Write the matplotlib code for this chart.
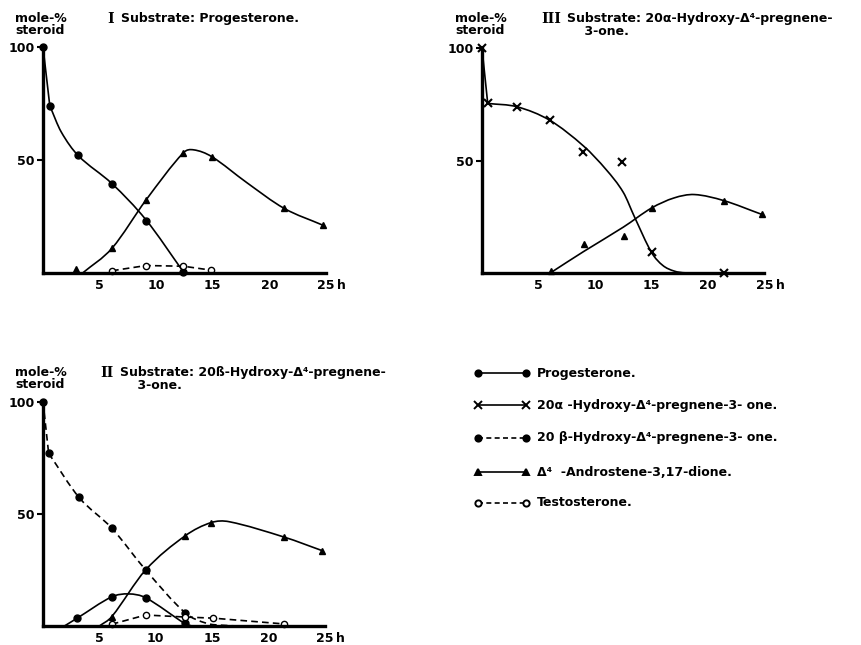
import numpy as np
import matplotlib
matplotlib.use("Agg")
import matplotlib.pyplot as plt
from matplotlib.path import Path
from matplotlib.patches import PathPatch

# ---- data (h, mole-%) ----
# panel I, substrate progesterone
I_prog_x = [0, 0.6, 3.1, 6.1, 9.1, 12.4]
I_prog_y = [100, 74, 52, 39.5, 23, 0.5]
I_prog_cx = [0.6, 1.6, 3.1, 6.1, 9.1, 12.4]
I_prog_cy = [74, 62.5, 52, 39.5, 23.5, 0.5]
I_andro_x = [2.9, 6.1, 9.1, 12.4, 14.9, 21.3, 24.7]
I_andro_y = [1.6, 11, 32.3, 53.2, 51.5, 28.6, 21.2]
I_andro_cx = [3.5, 6.1, 9.1, 12.4, 13.3, 14.9, 18, 21.3, 24.7]
I_andro_cy = [0, 11, 32.3, 53.2, 54.5, 51.5, 40, 28.6, 21.2]
I_testo_x = [6.1, 9.1, 12.4, 14.8]
I_testo_y = [1, 3.3, 3, 1.3]

# panel III, substrate 20a-hydroxy
III_alpha_x = [0, 0.5, 3.1, 6.0, 8.9, 12.4, 15.0, 21.4]
III_alpha_y = [100, 75.8, 74, 68, 54, 49.3, 9.3, 0]
III_alpha_cx = [0.5, 3.1, 6.0, 9.0, 11.0, 12.5, 13.5, 15.0, 16.0, 17.0, 18.0, 21.4, 25.0]
III_alpha_cy = [75.5, 74, 68, 56.5, 46, 36, 25, 9.3, 3.5, 1, 0.2, 0, 0]
III_andro_x = [6.1, 9.0, 12.6, 15.0, 21.4, 24.75]
III_andro_y = [1.2, 13, 16.7, 28.9, 32.3, 26.2]
III_andro_cx = [6.0, 9.0, 12.5, 15.0, 17.0, 18.8, 21.4, 24.75]
III_andro_cy = [0, 9.7, 20.5, 29, 33.5, 35, 32.3, 26.2]

# panel II, substrate 20b-hydroxy
II_beta_x = [0, 0.5, 3.2, 6.1, 9.1, 12.6]
II_beta_y = [100, 77, 57.3, 43.6, 25, 5.9]
II_beta_cx = [0.5, 3.2, 6.1, 9.1, 12.6, 14.5, 16.0, 17.5]
II_beta_cy = [77, 57.3, 43.6, 25, 5.9, 1.2, 0.3, 0]
II_prog_x = [3.0, 6.1, 9.1, 12.6]
II_prog_y = [3.4, 13, 12.6, 1.2]
II_prog_cx = [1.9, 3.0, 6.1, 7.6, 9.1, 12.6, 13.2]
II_prog_cy = [0, 3.4, 13, 14.3, 12.6, 1.0, 0]
II_andro_x = [6.1, 9.1, 12.6, 14.9, 21.4, 24.75]
II_andro_y = [4.2, 25, 40.2, 46.1, 39.6, 33.6]
II_andro_cx = [5.0, 6.1, 9.1, 12.6, 14.9, 16.5, 21.4, 24.75]
II_andro_cy = [0, 4.2, 25, 40.2, 46.1, 46.5, 39.6, 33.6]
II_testo_x = [6.1, 9.1, 12.6, 15.1, 21.4]
II_testo_y = [0.8, 4.9, 4.0, 3.5, 0.9]

xticks = [5, 10, 15, 20, 25]
yticks = [50, 100]

legend_labels = ["Progesterone.",
                 "20\u03b1 -Hydroxy-\u0394\u2074-pregnene-3- one.",
                 "20 \u03b2-Hydroxy-\u0394\u2074-pregnene-3- one.",
                 "\u0394\u2074  -Androstene-3,17-dione.",
                 "Testosterone."]

plt.rcParams['font.family'] = ['DejaVu Sans']
plt.rcParams['font.weight'] = 'bold'
FS = 9
LW = 1.2
MS = 5


def smooth(ax, xs, ys, ls='-'):
    # hermite curve through traced points, drawn as bezier path
    xs = np.asarray(xs, float)
    ys = np.asarray(ys, float)
    n = len(xs)
    m = np.zeros(n)
    for i in range(n):
        if i == 0:
            m[i] = (ys[1] - ys[0]) / (xs[1] - xs[0])
        elif i == n - 1:
            m[i] = (ys[-1] - ys[-2]) / (xs[-1] - xs[-2])
        else:
            m[i] = (ys[i + 1] - ys[i - 1]) / (xs[i + 1] - xs[i - 1])
    verts = [(xs[0], ys[0])]
    codes = [Path.MOVETO]
    for i in range(n - 1):
        dx = xs[i + 1] - xs[i]
        verts += [(xs[i] + dx / 3, ys[i] + m[i] * dx / 3),
                  (xs[i + 1] - dx / 3, ys[i + 1] - m[i + 1] * dx / 3),
                  (xs[i + 1], ys[i + 1])]
        codes += [Path.CURVE4] * 3
    ax.add_patch(PathPatch(Path(verts, codes), fill=False, lw=LW,
                           ls=ls, color='black', clip_on=False))


def setup(ax):
    ax.set_xlim(0, 25)
    ax.set_ylim(0, 100)
    for s in ['top', 'right']:
        ax.spines[s].set_visible(False)
    ax.spines['left'].set_linewidth(2.4)
    ax.spines['bottom'].set_linewidth(2.4)
    ax.set_xticks(xticks)
    ax.set_xticklabels([str(t) for t in xticks], fontsize=FS, fontweight='bold')
    ax.set_yticks(yticks)
    ax.set_yticklabels([str(t) for t in yticks], fontsize=FS, fontweight='bold')
    ax.tick_params(axis='x', length=0, pad=4)
    ax.tick_params(axis='y', length=4, width=1.5, pad=2)
    ax.annotate('h', xy=(25, 0), xycoords='data', xytext=(8, -4),
                textcoords='offset points', ha='left', va='top',
                fontsize=FS, fontweight='bold', annotation_clip=False)
    ax.patch.set_visible(False)


fig = plt.figure(figsize=(8.62, 6.45), dpi=100)
W, H = 862.0, 645.0
axI = fig.add_axes([43 / W, 1 - 273 / H, 283 / W, 226 / H])
axIII = fig.add_axes([482 / W, 1 - 273.3 / H, 282.5 / W, 225 / H])
axII = fig.add_axes([43 / W, 1 - 626 / H, 282 / W, 224.3 / H])
for a in (axI, axIII, axII):
    setup(a)

# panel I
a = axI
a.plot(I_prog_x[:2], I_prog_y[:2], color='k', lw=LW, clip_on=False)
smooth(a, I_prog_cx, I_prog_cy)
a.plot(I_prog_x, I_prog_y, 'o', color='k', ms=MS, clip_on=False)
smooth(a, I_andro_cx, I_andro_cy)
a.plot(I_andro_x, I_andro_y, '^', color='k', ms=MS, clip_on=False)
a.plot(I_testo_x, I_testo_y, 'o', ls=(0, (4, 2.5)), color='k', lw=LW,
       ms=MS - 0.5, mfc='white', clip_on=False)

# panel III
a = axIII
a.plot(III_alpha_x[:2], III_alpha_y[:2], color='k', lw=LW, clip_on=False)
smooth(a, III_alpha_cx, III_alpha_cy)
a.plot(III_alpha_x, III_alpha_y, 'x', color='k', ms=MS + 1, mew=1.5, clip_on=False)
smooth(a, III_andro_cx, III_andro_cy)
a.plot(III_andro_x, III_andro_y, '^', color='k', ms=MS, clip_on=False)

# panel II
a = axII
a.plot(II_beta_x[:2], II_beta_y[:2], color='k', lw=LW, ls=(0, (4, 2.5)), clip_on=False)
smooth(a, II_beta_cx, II_beta_cy, ls=(0, (4, 2.5)))
a.plot(II_beta_x, II_beta_y, 'o', color='k', ms=MS, clip_on=False)
smooth(a, II_prog_cx, II_prog_cy)
a.plot(II_prog_x, II_prog_y, 'o', color='k', ms=MS, clip_on=False)
smooth(a, II_andro_cx, II_andro_cy)
a.plot(II_andro_x, II_andro_y, '^', color='k', ms=MS, clip_on=False)
a.plot(II_testo_x, II_testo_y, 'o', ls=(0, (4, 2.5)), color='k', lw=LW,
       ms=MS - 0.5, mfc='white', clip_on=False)

# headings
def heading(x, y, num, text):
    fig.text(15 / W if x < 400 else 455 / W, 1 - y / H, 'mole-%\nsteroid',
             fontsize=FS, fontweight='bold', va='top', ha='left', linespacing=0.85)
    fig.text(x / W, 1 - y / H, num, family='DejaVu Serif', fontsize=FS + 1,
             fontweight='bold', va='top', ha='left')
    fig.text((x + 8 + 6 * len(num)) / W, 1 - y / H, text, fontsize=FS,
             fontweight='bold', va='top', ha='left', linespacing=1.0)

heading(107, 12, 'I', 'Substrate: Progesterone.')
heading(541, 12, 'III', 'Substrate: 20\u03b1-Hydroxy-\u0394\u2074-pregnene-\n    3-one.')
heading(100, 366, 'II', 'Substrate: 20\u00df-Hydroxy-\u0394\u2074-pregnene-\n    3-one.')

# legend drawn in figure pixel space
lg = fig.add_axes([0, 0, 1, 1])
lg.set_xlim(0, W)
lg.set_ylim(H, 0)
lg.axis('off')
rows = [373, 405, 438, 472, 503]
styles = [('o', '-', 'k', MS - 0.5), ('x', '-', 'k', MS + 0.5),
          ('o', (0, (3, 2)), 'k', MS - 0.5), ('^', '-', 'k', MS - 0.5),
          ('o', (0, (3, 2)), 'white', MS - 0.5)]
for yy, lab, (mk, ls, fc, ms) in zip(rows, legend_labels, styles):
    lg.plot([478, 526], [yy, yy], color='k', lw=LW, ls=ls, marker=mk,
            ms=ms, mfc=fc, mew=1.4)
    lg.text(537, yy, lab, fontsize=FS, fontweight='bold', va='center', ha='left')

fig.savefig('out.png', dpi=100)
